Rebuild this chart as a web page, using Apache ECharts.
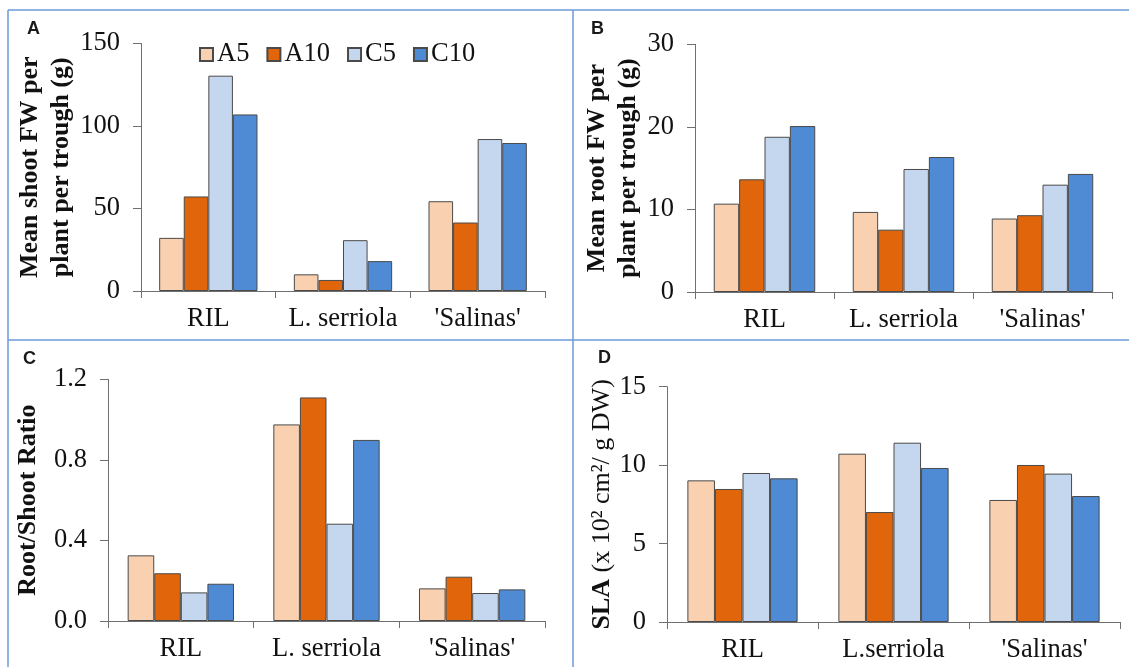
<!DOCTYPE html>
<html>
<head>
<meta charset="utf-8">
<title>Shoot / root biomass, root:shoot ratio and SLA</title>
<script src="https://cdn.jsdelivr.net/npm/echarts@6/dist/echarts.min.js"></script>
<style>
  html, body { margin: 0; padding: 0; background: #ffffff; }
  #chart { width: 1129px; height: 667px; }
</style>
</head>
<body>
<div id="chart"></div>
<script>
// 分类
const categories = ['RIL', 'L. serriola', "'Salinas'"]
const categoriesD = ['RIL', 'L.serriola', "'Salinas'"]
const seriesNames = ['A5', 'A10', 'C5', 'C10']

// A: Mean shoot FW per plant per trough (g)
const shootA5 = [32.2, 10.1, 54.4]
const shootA10 = [57.3, 6.7, 41.5]
const shootC5 = [130.5, 30.8, 92.1]
const shootC10 = [107.0, 18.1, 89.7]

// B: Mean root FW per plant per trough (g)
const rootA5 = [10.7, 9.7, 8.9]
const rootA10 = [13.65, 7.55, 9.3]
const rootC5 = [18.8, 14.9, 13.0]
const rootC10 = [20.1, 16.35, 14.3]

// C: Root/Shoot ratio
const ratioA5 = [0.326, 0.976, 0.162]
const ratioA10 = [0.237, 1.11, 0.22]
const ratioC5 = [0.142, 0.483, 0.139]
const ratioC10 = [0.185, 0.899, 0.157]

// D: SLA
const slaA5 = [9.03, 10.73, 7.78]
const slaA10 = [8.48, 7.01, 10.01]
const slaC5 = [9.5, 11.43, 9.46]
const slaC10 = [9.16, 9.82, 8.03]

// 颜色
const barColors = ['#f9d1b0', '#e1660b', '#c4d7ef', '#4f8ad5']
const serif = "'Liberation Serif', 'Times New Roman', serif"
const sans = "'Liberation Sans', Arial, sans-serif"
const axisColor = '#6f6f6f'
const frameColor = '#6b9ad8'
const labelSize = 26.5

const chart = echarts.init(document.getElementById('chart'), null, { renderer: 'canvas' })

// 网格位置
const grids = [
  { left: 141, top: 43.5, width: 404, height: 247.5 },
  { left: 695, top: 44.3, width: 417, height: 247.7 },
  { left: 108, top: 379.3, width: 437, height: 241.7 },
  { left: 667, top: 386.7, width: 453, height: 235.3 }
]

const xAxis = (idx, data) => ({
  type: 'category',
  gridIndex: idx,
  data: data,
  axisLine: { lineStyle: { color: axisColor, width: 1 } },
  axisTick: { show: true, length: 7, lineStyle: { color: axisColor } },
  axisLabel: {
    color: '#111', fontFamily: serif, fontSize: labelSize, margin: 15,
    interval: 0, hideOverlap: false
  },
  splitLine: { show: false }
})

const yLabel = { color: '#111', fontFamily: serif, fontSize: labelSize, margin: 21 }

const yAxis = (idx, max, interval, name, nameGap, extra) => Object.assign({
  type: 'value',
  gridIndex: idx,
  min: 0,
  max: max,
  interval: interval,
  name: name,
  nameLocation: 'middle',
  nameRotate: 90,
  nameGap: nameGap,
  nameTextStyle: {
    color: '#111', fontFamily: serif, fontSize: 26, fontWeight: 'bold', lineHeight: 31
  },
  axisLine: { show: true, lineStyle: { color: axisColor, width: 1 } },
  axisTick: { show: true, length: 8, lineStyle: { color: axisColor } },
  axisLabel: yLabel,
  splitLine: { show: false }
}, extra || {})

const barSeries = (idx, values) => values.map((data, i) => ({
  name: seriesNames[i],
  type: 'bar',
  xAxisIndex: idx,
  yAxisIndex: idx,
  data: data,
  barGap: '0%',
  barCategoryGap: '27%',
  itemStyle: { color: barColors[i], borderColor: '#4a4a4a', borderWidth: 1 },
  emphasis: { disabled: true }
}))

// 面板边框与字母
const frame = [
  { type: 'line', shape: { x1: 8, y1: 10, x2: 1129, y2: 10 } },
  { type: 'line', shape: { x1: 8, y1: 10, x2: 8, y2: 667 } },
  { type: 'line', shape: { x1: 573, y1: 10, x2: 573, y2: 667 } },
  { type: 'line', shape: { x1: 8, y1: 340, x2: 1129, y2: 340 } }
].map(g => Object.assign(g, { style: { stroke: frameColor, lineWidth: 1.5 }, silent: true }))

const letters = [['A', 27, 20], ['B', 591, 20], ['C', 23, 350], ['D', 598, 349]].map(([t, x, y]) => ({
  type: 'text', left: x, top: y,
  style: { text: t, fill: '#1a1a1a', font: 'bold 18px ' + sans }
}))

const option = {
  backgroundColor: '#ffffff',
  animation: false,
  legend: {
    data: seriesNames,
    left: 194,
    top: 36,
    icon: 'rect',
    itemWidth: 13,
    itemHeight: 13,
    itemGap: 17,
    selectedMode: false,
    textStyle: { color: '#111', fontFamily: serif, fontSize: labelSize, padding: [0, 0, 0, -1] }
  },
  grid: grids.map(g => Object.assign({ containLabel: false }, g)),
  xAxis: [
    xAxis(0, categories),
    xAxis(1, categories),
    xAxis(2, categories),
    xAxis(3, categoriesD)
  ],
  yAxis: [
    yAxis(0, 150, 50, 'Mean shoot FW per\nplant per trough (g)', 60),
    yAxis(1, 30, 10, 'Mean root FW per\nplant per trough (g)', 51),
    yAxis(2, 1.2, 0.4, 'Root/Shoot Ratio', 64, {
      axisLabel: Object.assign({}, yLabel, { formatter: v => v.toFixed(1) })
    }),
    yAxis(3, 15, 5, '{b|SLA} (x 10² cm²/ g DW)', 48, {
      nameTextStyle: {
        color: '#111', fontFamily: serif, fontSize: 26, fontWeight: 'normal',
        rich: { b: { fontFamily: serif, fontSize: 26, fontWeight: 'bold', color: '#111' } }
      }
    })
  ],
  series: [
    ...barSeries(0, [shootA5, shootA10, shootC5, shootC10]),
    ...barSeries(1, [rootA5, rootA10, rootC5, rootC10]),
    ...barSeries(2, [ratioA5, ratioA10, ratioC5, ratioC10]),
    ...barSeries(3, [slaA5, slaA10, slaC5, slaC10])
  ],
  graphic: [...frame, ...letters]
}

chart.setOption(option)
</script>
</body>
</html>
